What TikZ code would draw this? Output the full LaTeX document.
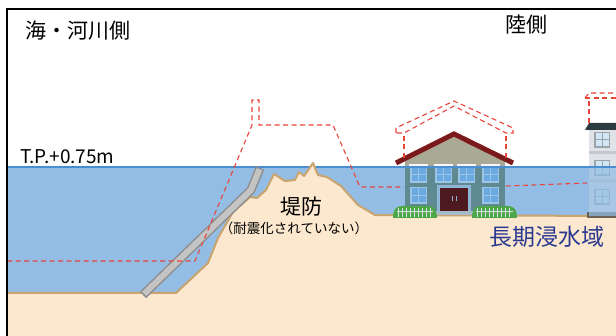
\documentclass[tikz,border=0pt]{standalone}
\usepackage{fontspec}
\setmainfont{Noto Sans CJK JP}
\definecolor{waterc}{HTML}{93BDE4}
\definecolor{waterln}{HTML}{4A8ED2}
\definecolor{sand}{HTML}{FBE8CF}
\definecolor{sandln}{HTML}{C9A46E}
\definecolor{floodc}{HTML}{E8453C}
\definecolor{roofc}{HTML}{7B1A1A}
\definecolor{gablec}{HTML}{A9A995}
\definecolor{wallwet}{HTML}{5F8A92}
\definecolor{winframe}{HTML}{9CC4E6}
\definecolor{winpane}{HTML}{6AAAE0}
\definecolor{doorframe}{HTML}{8FB6D6}
\definecolor{doorc}{HTML}{4D1B1F}
\definecolor{stepc}{HTML}{A7BCCB}
\definecolor{bushc}{HTML}{4EA64A}
\definecolor{picketc}{HTML}{D8E4E6}
\definecolor{bldgc}{HTML}{DFE3E7}
\definecolor{bldgroof}{HTML}{2F3B42}
\definecolor{bandc}{HTML}{C3C9CE}
\definecolor{bwinframe}{HTML}{9AA4AB}
\definecolor{bwinpane}{HTML}{D3E6F5}
\definecolor{basec}{HTML}{6E6256}
\definecolor{revetdark}{HTML}{8E8E8E}
\definecolor{revetlight}{HTML}{C4C4C4}
\definecolor{areablue}{HTML}{2B3990}
\begin{document}
\begin{tikzpicture}[x=1pt,y=-1pt,
  flood/.style={draw=floodc,line width=1.1pt,dash pattern=on 5pt off 3.5pt},
  waterline/.style={draw=waterln,line width=1.3pt},
  picket/.style={draw=picketc,line width=0.8pt},
  label/.style={inner sep=0pt,anchor=center}]
\useasboundingbox (0,0) rectangle (616,336);
\fill[white] (0,0) rectangle (616,336);

% water body and its surface
\fill[waterc] (7,167) rectangle (616,336);
\draw[waterline] (7,167) -- (616,167);

% ground and levee
\fill[sand] (7,293) -- (176,293) -- (208,263) -- (218,238) -- (233,212) -- (250,197)
  -- (257,198) -- (266,190) -- (274,174) -- (285,181) -- (295,180) -- (299,172)
  -- (304,176) -- (313,163) -- (318,175) -- (327,177) -- (341,186) -- (358,205)
  -- (375,215) -- (616,216) -- (616,336) -- (7,336) -- cycle;
\draw[sandln,line width=2pt,line join=round] (7,293) -- (176,293) -- (208,263) -- (218,238) -- (233,212) -- (250,197)
  -- (257,198) -- (266,190) -- (274,174) -- (285,181) -- (295,180) -- (299,172)
  -- (304,176) -- (313,163) -- (318,175) -- (327,177) -- (341,186) -- (358,205)
  -- (375,215) -- (616,216);

% house
\fill[gablec] (405,161) -- (454,137) -- (505,161) -- (505,167) -- (405,167) -- cycle;
\fill[wallwet] (405,167) rectangle (505,214);
\foreach \x in {410,435,458,482} {
  \fill[white!90!winframe] (\x-1,164.5) rectangle ++(19,2.5);
  \fill[winframe] (\x,166) rectangle ++(17,17);
  \foreach \i in {0,1} \foreach \j in {0,1}
    \fill[winpane] (\x+1.5+\i*7.5,167.5+\j*7.5) rectangle ++(6.5,6.5);
}
\foreach \x in {410,482} {
  \fill[winframe] (\x,187) rectangle ++(17,17);
  \foreach \i in {0,1} \foreach \j in {0,1}
    \fill[winpane] (\x+1.5+\i*7.5,188.5+\j*7.5) rectangle ++(6.5,6.5);
}
\fill[doorframe] (437,185) rectangle (471,212);
\fill[doorc] (440,188) rectangle (468,212);
\draw[doorframe,line width=1pt] (452,196) -- (452,201) (456,196) -- (456,201);
\fill[stepc] (434,211) rectangle (474,215);
\draw[roofc,line width=5pt,line join=miter] (396,163) -- (454,134) -- (513,163);
% hedges and picket fences
\foreach \a/\b in {393/437,472/517} {
  \fill[bushc] (\a,218) .. controls (\a,208) and (\a+4,206) .. (\a+10,206) -- (\b-10,206)
    .. controls (\b-4,206) and (\b,208) .. (\b,218) -- cycle;
  \foreach \x in {5,9,...,39} \draw[picket] (\a+\x,208) -- (\a+\x,217);
  \draw[picket] (\a+4,211.5) -- (\b-4,211.5);
}
\draw[waterline] (380,167) -- (587,167);

% apartment block at the right edge
\fill[bldgc] (589,130) rectangle (616,216);
\fill[bldgroof] (585,130) -- (589,123) -- (616,123) -- (616,130) -- cycle;
\fill[bandc] (589,151) rectangle (616,154);
\fill[bandc] (589,179) rectangle (616,182);
\foreach \y in {132,160,189} {
  \fill[bwinframe] (594,\y) rectangle ++(16,16);
  \foreach \i in {0,1} \foreach \j in {0,1}
    \fill[bwinpane] (595.5+\i*7,\y+1.5+\j*7) rectangle ++(6,6);
}
\fill[basec] (587,212) rectangle (616,218);
\fill[waterc,opacity=0.72] (589,167) rectangle (616,216);
\draw[waterline] (587,167) -- (616,167);

% revetment slab on the river face
\draw[revetdark,line width=9pt,line join=round] (143,295) -- (251,190) -- (260,168);
\draw[revetlight,line width=6pt,line join=round] (144.2,293.8) -- (251,190) -- (259.5,169.2);

% pre-subsidence profile
\draw[flood] (7,261) -- (195,261) -- (252,125) -- (252,100) -- (259,100) -- (259,125)
  -- (333,125) -- (360,187) -- (404,187);
\draw[flood] (506,186) -- (587,183);
\draw[flood] (396,133) -- (396,128) -- (454,101) -- (513,128) -- (513,133) -- (506,133)
  -- (454,106) -- (404,133) -- cycle;
\draw[flood,line width=2pt] (404,136) -- (404,160) (506,136) -- (506,160);
\draw[flood] (589,123) -- (589,98);
\draw[flood] (585,98) -- (589,93) -- (616,93);
\draw[flood] (585,98) -- (616,98);

% labels
\node[label] (sea) at (78,31) {\fontsize{21}{21}\selectfont 海・河川側};
\node[label] (land) at (526,25) {\fontsize{21}{21}\selectfont 陸側};
\node[label,anchor=west] (tp) at (20,157) {\fontsize{19}{19}\selectfont T.P.+0.75m};
\node[label] (levee) at (301,207) {\fontsize{21}{21}\selectfont 堤防};
\node[label] (note) at (294,228) {\fontsize{13.5}{13.5}\selectfont （耐震化されていない）};
\node[label,text=areablue] (area) at (547,237) {\fontsize{23}{23}\selectfont 長期浸水域};

% frame
\draw[black,line width=2pt] (7,336) -- (7,9) -- (616,9);
\end{tikzpicture}
\end{document}
